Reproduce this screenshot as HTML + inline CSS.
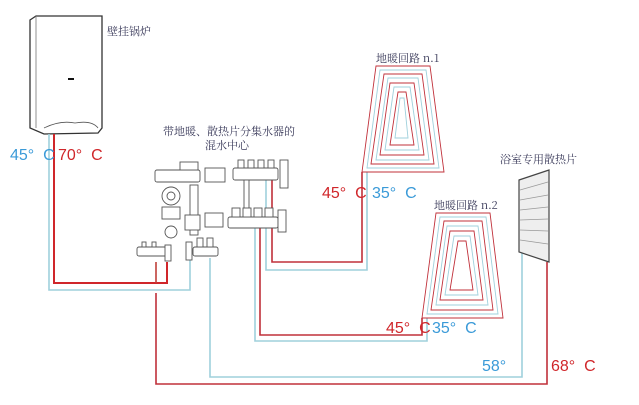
<!DOCTYPE html>
<html><head><meta charset="utf-8"><style>
html,body{margin:0;padding:0;background:#fff;}
svg{display:block}
.t{font-family:"Liberation Sans","Noto Sans CJK SC",sans-serif;}
.c{font-family:"Noto Serif CJK SC","Noto Sans CJK SC",serif;font-size:11px;fill:#3a3a5a}
</style></head><body>
<svg width="639" height="405" viewBox="0 0 639 405" xmlns="http://www.w3.org/2000/svg">
<rect width="639" height="405" fill="#fff"/>
<path d="M30 20 L36 16 L102 16 L102 128 L98 133 L44 134 L30 128 Z" fill="#fff" stroke="#333" stroke-width="1.3"/>
<line x1="36" y1="16" x2="36" y2="128" stroke="#777" stroke-width="0.8"/>
<path d="M44 128 Q60 120 75 123 Q92 120 98 128" fill="none" stroke="#555" stroke-width="0.8"/>
<rect x="68" y="78" width="6" height="2" fill="#111"/>
<text class="c" x="107" y="35">壁挂锅炉</text>
<text class="c" x="163" y="135">带地暖、散热片分集水器的</text>
<text class="c" x="205" y="149">混水中心</text>
<g fill="none" stroke-width="1.6">
<polyline points="49,134 49,290 190,290 190,258" stroke="#9fd0dc"/>
<polyline points="54,134 54,283 167,283 167,262" stroke="#d0262a" stroke-width="2"/>
<polyline points="156,262 156,283" stroke="#c0403a"/>
<polyline points="156,293 156,384 547,384 547,262" stroke="#c0303a"/>
<polyline points="210,258 210,377 522,377 522,252" stroke="#9fd0dc"/>
<polyline points="260,225 260,335 422,335 422,318" stroke="#c0303a"/>
<polyline points="255,225 255,341 427,341 427,318" stroke="#9fd0dc"/>
<polyline points="272,180 272,262 362,262 362,172" stroke="#c0303a"/>
<polyline points="266,180 266,270 367,270 367,172" stroke="#9fd0dc"/>
</g>
<g fill="#fff" stroke="#555" stroke-width="0.9">
<rect x="155" y="170" width="45" height="12" rx="2"/>
<rect x="180" y="162" width="18" height="8"/>
<circle cx="171" cy="196" r="9"/>
<circle cx="171" cy="196" r="4"/>
<rect x="162" y="207" width="18" height="12"/>
<circle cx="171" cy="232" r="6"/>
<rect x="190" y="185" width="8" height="50"/>
<rect x="205" y="168" width="20" height="14"/>
<rect x="233" y="168" width="45" height="12" rx="2"/>
<rect x="238" y="160" width="6" height="8"/><rect x="248" y="160" width="6" height="8"/><rect x="258" y="160" width="6" height="8"/><rect x="268" y="160" width="6" height="8"/>
<rect x="244" y="180" width="5" height="37"/>
<rect x="228" y="217" width="50" height="11" rx="2"/>
<rect x="232" y="208" width="8" height="9"/><rect x="243" y="208" width="8" height="9"/><rect x="254" y="208" width="8" height="9"/><rect x="265" y="208" width="8" height="9"/>
<rect x="185" y="215" width="15" height="15"/>
<rect x="205" y="213" width="18" height="14"/>
<rect x="280" y="160" width="8" height="28"/>
<rect x="278" y="210" width="8" height="22"/>
<rect x="137" y="247" width="33" height="9" rx="2"/>
<rect x="142" y="242" width="4" height="5"/><rect x="152" y="242" width="4" height="5"/>
<rect x="165" y="245" width="6" height="16"/>
<rect x="186" y="242" width="6" height="18"/>
<rect x="193" y="247" width="25" height="9" rx="2"/>
<rect x="197" y="238" width="6" height="9"/><rect x="207" y="238" width="6" height="9"/>
</g>
<g fill="none" stroke-width="0.9">
<path d="M362 172 L376 66 L430 66 L444 172 Z" stroke="#c0303a"/>
<path d="M367 168 L380 70 L426 70 L439 168 Z" stroke="#9fd0dc"/>
<path d="M371 164 L384 74 L422 74 L434 164 Z" stroke="#c0303a"/>
<path d="M376 160 L388 78 L418 78 L429 160 Z" stroke="#9fd0dc"/>
<path d="M380 155 L390 83 L414 83 L424 155 Z" stroke="#c0303a"/>
<path d="M385 150 L394 87 L410 87 L419 150 Z" stroke="#9fd0dc"/>
<path d="M390 145 L398 92 L406 92 L414 145 Z" stroke="#c0303a"/>
<path d="M395 138 L400 98 L404 98 L408 138 Z" stroke="#9fd0dc"/>
</g>
<g fill="none" stroke-width="0.9">
<path d="M422 318 L436 213 L490 213 L503 318 Z" stroke="#c0303a"/>
<path d="M427 314 L440 217 L486 217 L498 314 Z" stroke="#9fd0dc"/>
<path d="M431 310 L444 221 L482 221 L493 310 Z" stroke="#c0303a"/>
<path d="M436 305 L447 226 L478 226 L488 305 Z" stroke="#9fd0dc"/>
<path d="M440 300 L450 231 L474 231 L483 300 Z" stroke="#c0303a"/>
<path d="M445 295 L454 236 L470 236 L478 295 Z" stroke="#9fd0dc"/>
<path d="M450 290 L458 241 L466 241 L473 290 Z" stroke="#c0303a"/>
</g>
<path d="M519 180 L549 170 L549 262 L519 252 Z" fill="#eee" stroke="#444" stroke-width="1.2"/>
<g stroke="#999" stroke-width="0.7">
<line x1="520" y1="190" x2="548" y2="182"/><line x1="520" y1="200" x2="548" y2="195"/><line x1="520" y1="210" x2="548" y2="207"/><line x1="520" y1="220" x2="548" y2="219"/><line x1="520" y1="230" x2="548" y2="231"/><line x1="520" y1="240" x2="548" y2="244"/>
</g>
<text class="c" x="376" y="62">地暖回路 n.1</text>
<text class="c" x="434" y="209">地暖回路 n.2</text>
<text class="c" x="500" y="163">浴室专用散热片</text>
<g class="t" font-size="16">
<text x="10" y="160" fill="#3a9ad8">45°&#160; C</text>
<text x="58" y="160" fill="#d0262a">70°&#160; C</text>
<text x="322" y="198" fill="#d0262a">45°&#160; C</text>
<text x="372" y="198" fill="#3a9ad8">35°&#160; C</text>
<text x="386" y="333" fill="#d0262a">45°&#160; C</text>
<text x="432" y="333" fill="#3a9ad8">35°&#160; C</text>
<text x="482" y="371" fill="#3a9ad8">58°</text>
<text x="551" y="371" fill="#d0262a">68°&#160; C</text>
</g>
</svg>
</body></html>
